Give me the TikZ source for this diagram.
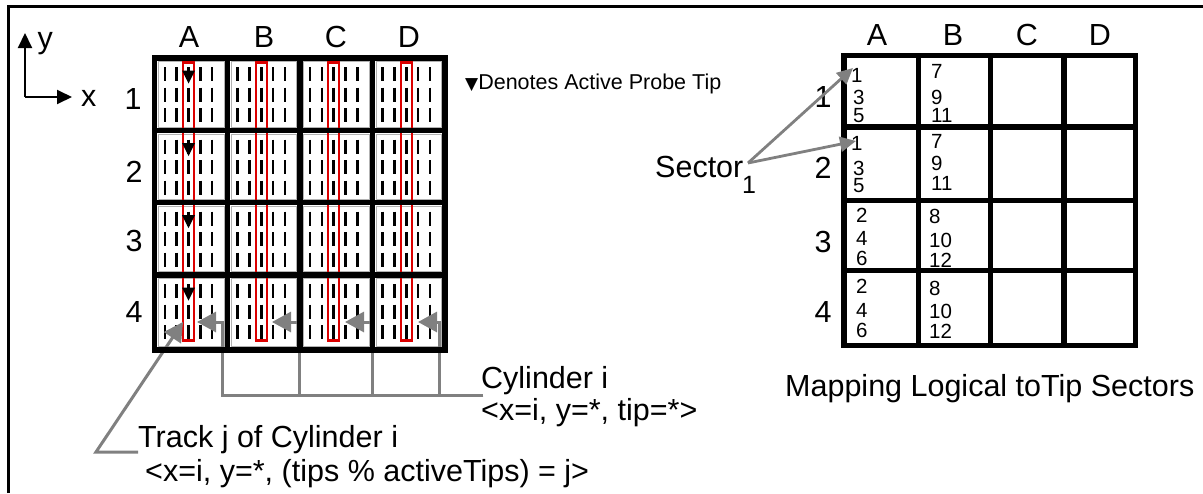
\documentclass[tikz,border=0pt]{standalone}
\usepackage{fontspec}
\setmainfont{Liberation Sans}
\newfontfamily\symfont{DejaVu Sans}
\usetikzlibrary{arrows.meta}
\definecolor{arrgray}{RGB}{128,128,128}
\definecolor{trackred}{RGB}{220,0,0}
\newcommand\fBig{\fontsize{30.5}{36}\selectfont}
\newcommand\fNum{\fontsize{20.5}{24}\selectfont}
\newcommand\fNote{\fontsize{21.5}{25}\selectfont}
\begin{document}
\begin{tikzpicture}[x=1pt,y=-1pt,
  thickgrid/.style={line width=5.5pt,line cap=rect},
  dashmark/.style={line width=2.6pt},
  trackbox/.style={draw=trackred,line width=2.2pt},
  cellbg/.style={draw=black!30,line width=0.8pt,fill=white},
  grayarrow/.style={draw=arrgray,line width=3pt,-{Triangle[length=19pt,width=20pt]}},
  secarrow/.style={draw=arrgray,line width=2.8pt,-{Triangle[length=16pt,width=15pt]}},
  axisarrow/.style={draw=black,line width=2pt,-{Triangle[length=15pt,width=14pt]}},
  lbl/.style={inner sep=0pt,anchor=base,font=\fBig},
  txt/.style={inner sep=0pt,anchor=base west,font=\fBig},
  num/.style={inner sep=0pt,anchor=base west,font=\fNum},
]
\useasboundingbox (0,0) rectangle (1203,493);
% frame
\draw[line width=3pt] (8.5,493) -- (8.5,6.5) -- (1203,6.5);

% axes
\coordinate (origin) at (25,97);
\coordinate (ytip) at (25,33);
\coordinate (xtip) at (72,97);
\draw[axisarrow] (origin) -- (ytip);
\draw[axisarrow] (origin) -- (xtip);
\node[txt] (ylbl) at (37.5,48.5) {y};
\node[txt] (xlbl) at (81,106) {x};

% ---------- left grid ----------
\foreach \xa/\xb in {154.5/227.5, 227.5/300, 300/372.5, 372.5/445} {
  \foreach \ya/\yb in {58/130.5, 130.5/202.7, 202.7/275, 275/350} {
    \path[cellbg] (\xa+3.4,\ya+3.4) rectangle (\xb-3.4,\yb-3.4);
    \pgfmathsetmacro\cx{(\xa+\xb)/2-2.5}
    \foreach \k in {-2,...,2} {
      \foreach \m in {0,1,2} {
        \draw[dashmark] ({\cx+11.8*\k},{\ya+9+20.5*\m}) -- ++(0,14);
      }
    }
  }
}
% red track boxes
\foreach \xa/\xb in {154.5/227.5, 227.5/300, 300/372.5, 372.5/445} {
  \pgfmathsetmacro\cx{(\xa+\xb)/2-2.5}
  \draw[trackbox] (\cx-5.5,62.5) rectangle (\cx+5.5,340.5);
}

% cylinder arrows
\node[txt] (cyl) at (481,388) {Cylinder i};
\node[txt] (cylsub) at (481,420) {<x=i, y=*, tip=*>};
\coordinate (cylend) at (483,395);
\coordinate (c1) at (222,322); \coordinate (t1) at (197,322);
\coordinate (c2) at (299,322); \coordinate (t2) at (272,322);
\coordinate (c3) at (372,322); \coordinate (t3) at (345,322);
\coordinate (c4) at (439,322); \coordinate (t4) at (418,322);
\foreach \n in {1,2,3,4} {
  \draw[grayarrow] (cylend) -| (c\n) -- (t\n);
}

% track arrow
\node[txt] (track) at (138,447) {Track j of Cylinder i};
\node[txt] (tracksub) at (145,481) {<x=i, y=*, (tips \% activeTips) = j>};
\coordinate (trackend) at (138,452);
\coordinate (trackcorner) at (96,452);
\coordinate (tracktip) at (183,322);
\draw[grayarrow] (trackend) -- (trackcorner) -- (tracktip);

% grid lines
\foreach \x in {154.5,227.5,300,372.5,445} \draw[thickgrid] (\x,58) -- (\x,350);
\foreach \y in {58,130.5,202.7,275,350} \draw[thickgrid] (154.5,\y) -- (445,\y);

% active tips
\foreach \ya in {58,130.5,202.7,275} {
  \fill (182,\ya+12.5) -- (195,\ya+12.5) -- (188.5,\ya+25.5) -- cycle;
}

% labels left grid
\node[lbl] (lA) at (189,47) {A};
\node[lbl] (lB) at (264,47) {B};
\node[lbl] (lC) at (336,47) {C};
\node[lbl] (lD) at (409,47) {D};
\node[lbl] (l1) at (133,109) {1};
\node[lbl] (l2) at (134,182) {2};
\node[lbl] (l3) at (134,251) {3};
\node[lbl] (l4) at (134,322) {4};

% note
\node[inner sep=0pt,anchor=base west,font=\fNote] (note) at (465,89)
  {{\symfont\fontsize{17}{20}\selectfont ▼}Denotes Active Probe Tip};

% ---------- right grid ----------
\foreach \x in {844,918.5,990.5,1064,1135.5} \draw[thickgrid] (\x,55.5) -- (\x,345.5);
\foreach \y in {55.5,127,200.5,270.5,345.5} \draw[thickgrid] (844,\y) -- (1135.5,\y);

\node[lbl] (rA) at (877,45) {A};
\node[lbl] (rB) at (953,45) {B};
\node[lbl] (rC) at (1027,45) {C};
\node[lbl] (rD) at (1100,45) {D};
\node[lbl] (r1) at (823,107) {1};
\node[lbl] (r2) at (823,178) {2};
\node[lbl] (r3) at (823,252) {3};
\node[lbl] (r4) at (823,322) {4};

% numbers
\node[num] (a1a) at (851,82) {1};
\node[num] (a1b) at (853,104) {3};
\node[num] (a1c) at (853,122) {5};
\node[num] (b1a) at (931,78) {7};
\node[num] (b1b) at (931,104) {9};
\node[num] (b1c) at (931,122) {11};
\node[num] (a2a) at (851,150) {1};
\node[num] (a2b) at (853,175) {3};
\node[num] (a2c) at (853,192) {5};
\node[num] (b2a) at (931,148) {7};
\node[num] (b2b) at (931,170) {9};
\node[num] (b2c) at (931,190) {11};
\node[num] (a3a) at (856,222) {2};
\node[num] (a3b) at (856,245) {4};
\node[num] (a3c) at (856,265) {6};
\node[num] (b3a) at (929,223) {8};
\node[num] (b3b) at (929,247) {10};
\node[num] (b3c) at (929,267) {12};
\node[num] (a4a) at (856,293) {2};
\node[num] (a4b) at (856,317) {4};
\node[num] (a4c) at (856,337) {6};
\node[num] (b4a) at (929,295) {8};
\node[num] (b4b) at (929,318) {10};
\node[num] (b4c) at (929,338) {12};

% sector
\node[txt] (sector) at (655,177) {Sector};
\node[inner sep=0pt,anchor=base west,font=\fontsize{25}{30}\selectfont] (sectorsub) at (742,193) {1};
\coordinate (secfrom) at (748,163);
\coordinate (sectip1) at (853,68);
\coordinate (sectip2) at (856,141);
\draw[secarrow] (secfrom) -- (sectip1);
\draw[secarrow] (secfrom) -- (sectip2);

\node[txt] (map) at (785,396) {Mapping Logical toTip Sectors};
\end{tikzpicture}
\end{document}
